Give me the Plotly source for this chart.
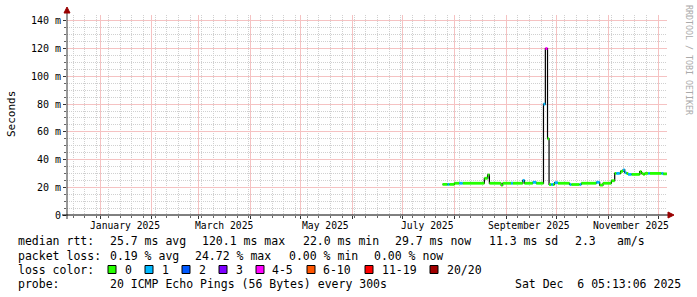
import plotly.graph_objects as go

# ---------------- data ----------------
dates = [
    "2025-07-25", "2025-07-28", "2025-07-29", "2025-08-01", "2025-08-04", "2025-08-06",
    "2025-08-19", "2025-08-20", "2025-08-21", "2025-08-22", "2025-08-29", "2025-08-30",
    "2025-09-04", "2025-09-05", "2025-09-11", "2025-09-12", "2025-09-17", "2025-09-19",
    "2025-09-23 09:00", "2025-09-24 12:00", "2025-09-25 19:00", "2025-09-26 17:00",
    "2025-09-28", "2025-09-29", "2025-09-30", "2025-10-02", "2025-10-09", "2025-10-10",
    "2025-10-15", "2025-10-16", "2025-10-25", "2025-10-27", "2025-10-29", "2025-11-03",
    "2025-11-05", "2025-11-06", "2025-11-08", "2025-11-08 12:00", "2025-11-10", "2025-11-11",
    "2025-11-12", "2025-11-13", "2025-11-15", "2025-11-20", "2025-11-21", "2025-11-22",
    "2025-11-23", "2025-11-25", "2025-11-26", "2025-12-03", "2025-12-04", "2025-12-06 05:00",
]
rtt_ms = [
    22.1, 22.1, 22.1, 22.9, 22.9, 22.9,
    26.5, 26.5, 28.9, 22.9, 21.6, 22.9,
    22.9, 22.9, 25.0, 22.9, 23.6, 22.9,
    80.0, 120.1, 55.0, 22.0,
    22.0, 22.0, 23.3, 22.9, 22.0, 22.0,
    22.0, 22.9, 23.6, 21.6, 22.9, 24.7,
    30.0, 30.0, 30.0, 31.5, 32.5, 30.5,
    30.0, 29.3, 29.3, 31.3, 30.0, 29.3,
    30.0, 30.0, 30.0, 30.0, 29.7, 29.7,
]
loss_level = [
    0, 1, 0, 0, 1, 0,
    0, 0, 0, 0, 0, 0,
    1, 0, 1, 0, 1, 0,
    1, 4, 0, 0,
    1, 0, 1, 0, 1, 0,
    1, 0, 1, 0, 0, 0,
    0, 1, 0, 0, 1, 1,
    0, 1, 0, 0, 0, 0,
    0, 1, 0, 1, 0, 0,
]
loss_labels = ["0", "1", "2", "3", "4-5", "6-10", "11-19", "20/20"]
loss_colors = ["#26ff00", "#00b8ff", "#0059ff", "#7e00ff", "#ff00ff", "#ff5500", "#ff0000", "#a10000"]

y_tickvals = [0, 20, 40, 60, 80, 100, 120, 140]
y_ticktext = ["0", "20 m", "40 m", "60 m", "80 m", "100 m", "120 m", "140 m"]
y_minorvals = [5, 10, 15, 25, 30, 35, 45, 50, 55, 65, 70, 75, 85, 90, 95, 105, 110, 115, 125, 130, 135]
x_label_dates = ["2025-01-16", "2025-03-16", "2025-05-16", "2025-07-16", "2025-09-15", "2025-11-15"]
x_label_text = ["January 2025", "March 2025", "May 2025", "July 2025", "September 2025", "November 2025"]

stats_rtt = ["25.7 ms avg", "120.1 ms max", "22.0 ms min", "29.7 ms now", "11.3 ms sd", "2.3", "am/s"]
stats_loss = ["0.19 % avg", "24.72 % max", "0.00 % min", "0.00 % now"]
probe_text = "20 ICMP Echo Pings (56 Bytes) every 300s"
stamp_text = "Sat Dec  6 05:13:06 2025"

# ---------------- figure ----------------
W, H = 697, 297
L, R, T, B = 67, 30, 15, 82
PW, PH = W - L - R, H - T - B
XRANGE = ["2024-12-12 06:00", "2025-12-06 07:00"]
YRANGE = [0, 144.3]


def px(x):
    return (x - L) / PW


def py(y):
    return (T + PH - y) / PH


fig = go.Figure()

fig.add_trace(go.Scatter(x=dates, y=rtt_ms, mode="lines", line=dict(color="black", width=1.2, shape="hv"),
                         hoverinfo="skip"))

for lvl, col in enumerate(loss_colors):
    xs, ys = [], []
    for i in range(len(dates) - 1):
        if loss_level[i] == lvl:
            xs += [dates[i], dates[i + 1], None]
            ys += [rtt_ms[i], rtt_ms[i], None]
    if xs:
        fig.add_trace(go.Scatter(x=xs, y=ys, mode="lines", line=dict(color=col, width=2.8),
                                 hoverinfo="skip"))

mono = "DejaVu Sans Mono"
MAJ = "#f5c2c2"
MIN = "#d0d0d0"
fig.update_layout(
    width=W, height=H, margin=dict(l=L, r=R, t=T, b=B),
    plot_bgcolor="white", paper_bgcolor="white", showlegend=False,
    font=dict(family=mono, size=10, color="black"),
    xaxis=dict(
        type="date", range=XRANGE, showticklabels=False, zeroline=False, showline=False,
        tick0="2025-01-01", dtick="M1", showgrid=True,
        gridcolor=MAJ, griddash="solid", gridwidth=1,
        ticks="outside", ticklen=3, tickcolor="#333",
        minor=dict(tick0="2024-12-16", dtick=7 * 86400000, showgrid=True,
                   gridcolor=MIN, griddash="1px,1px", ticks="outside", ticklen=2, tickcolor="#666"),
    ),
    yaxis=dict(
        range=YRANGE, tickvals=y_tickvals, ticktext=y_ticktext,
        zeroline=False, showline=False, showgrid=True,
        gridcolor=MAJ, griddash="solid",
        ticks="outside", ticklen=3, tickcolor="#333",
        tickfont=dict(family=mono, size=10, color="black"),
        minor=dict(tickvals=y_minorvals, showgrid=True, gridcolor=MIN, griddash="1px,1px",
                   ticks="outside", ticklen=2, tickcolor="#666"),
    ),
)

ann = []
for d, t in zip(x_label_dates, x_label_text):
    ann.append(dict(x=d, y=py(225), xref="x", yref="paper", text=t, showarrow=False,
                    xanchor="center", yanchor="middle", font=dict(family=mono, size=9.7)))
ann.append(dict(x=px(11), y=py(114), xref="paper", yref="paper", text="Seconds", showarrow=False,
                textangle=-90, xanchor="center", yanchor="middle", font=dict(family=mono, size=11)))
ann.append(dict(x=px(689), y=py(60), xref="paper", yref="paper", text="RRDTOOL / TOBI OETIKER",
                showarrow=False, textangle=90, xanchor="center", yanchor="middle",
                font=dict(family=mono, size=8.3, color="#aaaaaa")))

lf = dict(family=mono, size=11.5, color="black")


def txt(x, y, t):
    ann.append(dict(x=px(x), y=py(y), xref="paper", yref="paper", text=t, showarrow=False,
                    xanchor="left", yanchor="middle", font=lf))


r1, r2, r3, r4 = 241, 255.5, 269.5, 284
txt(16, r1, "median rtt:")
for x, t in zip([108, 200, 301, 393, 487, 573, 615], stats_rtt):
    txt(x, r1, t)
txt(16, r2, "packet loss:")
for x, t in zip([108, 193, 287, 372], stats_loss):
    txt(x, r2, t)
txt(16, r3, "loss color:")
box_x = [108, 145, 182, 219, 256, 307, 365, 430]
lab_x = [123, 160, 197, 234, 270, 321, 380, 445]
shapes = []
for bx, lx, lab, col in zip(box_x, lab_x, loss_labels, loss_colors):
    shapes.append(dict(type="rect", xref="paper", yref="paper", x0=px(bx), x1=px(bx + 8),
                       y0=py(r3 + 4), y1=py(r3 - 4), fillcolor=col, line=dict(color="black", width=1)))
    txt(lx, r3, lab)
txt(16, r4, "probe:")
txt(108, r4, probe_text)
txt(513, r4, stamp_text)

shapes.append(dict(type="line", xref="paper", yref="paper", x0=0, x1=0, y0=py(219), y1=py(12),
                   line=dict(color="#333", width=1)))
shapes.append(dict(type="line", xref="paper", yref="paper", x0=px(62), x1=px(669), y0=0, y1=0,
                   line=dict(color="black", width=1)))
shapes.append(dict(type="path", xref="paper", yref="paper",
                   path=f"M {px(64)},{py(13)} L {px(70)},{py(13)} L {px(67)},{py(7)} Z",
                   fillcolor="#990000", line=dict(color="#990000", width=1)))
shapes.append(dict(type="path", xref="paper", yref="paper",
                   path=f"M {px(668)},{py(212)} L {px(668)},{py(218)} L {px(674)},{py(215)} Z",
                   fillcolor="#990000", line=dict(color="#990000", width=1)))

fig.update_layout(annotations=ann, shapes=shapes)
fig.write_html("out.html")
